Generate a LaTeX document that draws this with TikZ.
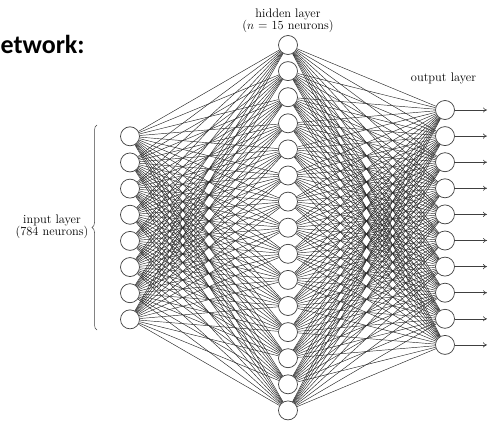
\documentclass[tikz,border=0pt]{standalone}
\usepackage{fontspec}
\newfontfamily\headfont{Carlito}
\usetikzlibrary{decorations.pathreplacing,arrows.meta}

\tikzset{
  neuron/.style={circle, draw=black!75, fill=white, line width=0.7pt,
                 minimum size=19pt, inner sep=0pt},
  conn/.style={draw=black!85, line width=0.45pt},
  outarrow/.style={draw=black!75, line width=0.6pt, -{To[length=4pt,width=5pt]}},
  layerlabel/.style={align=center, inner sep=0pt,
                     font=\fontsize{12.4}{12.5}\selectfont},
}

\begin{document}
\begin{tikzpicture}[x=1pt,y=-1pt]
  \useasboundingbox (0,0) rectangle (492,420);

  % heading
  \node[anchor=base west, inner sep=0pt,
        font=\headfont\bfseries\fontsize{26}{30}\selectfont] (title) at (0.5,53) {etwork:};

  % layers
  \foreach \i in {0,...,7}
    \node[neuron] (in-\i) at (130, 136.3+26.15*\i) {};
  \foreach \i in {0,...,14}
    \node[neuron] (hid-\i) at (288, 45+26.1*\i) {};
  \foreach \i in {0,...,9}
    \node[neuron] (out-\i) at (445, 110+26.1*\i) {};

  % full connections
  \foreach \a in {0,...,7}
    \foreach \b in {0,...,14}
      \draw[conn] (in-\a) -- (hid-\b);
  \foreach \a in {0,...,14}
    \foreach \b in {0,...,9}
      \draw[conn] (hid-\a) -- (out-\b);

  % outputs
  \foreach \i in {0,...,9} {
    \coordinate (end-\i) at (487, 110+26.1*\i);
    \draw[outarrow] (out-\i) -- (end-\i);
  }

  % input brace and labels
  \coordinate (braceBot) at (97,330);
  \coordinate (braceTop) at (97,125);
  \draw[black!75, line width=0.5pt, decorate,
        decoration={brace, amplitude=5pt}]
        (braceBot) -- (braceTop);

  \node[layerlabel] (inlabel) at (52,227) {input layer\\(784 neurons)};
  \node[layerlabel] (hidlabel) at (288,21) {hidden layer\\($n$ = 15 neurons)};
  \node[layerlabel] (outlabel) at (443.5,78) {output layer};
\end{tikzpicture}
\end{document}
